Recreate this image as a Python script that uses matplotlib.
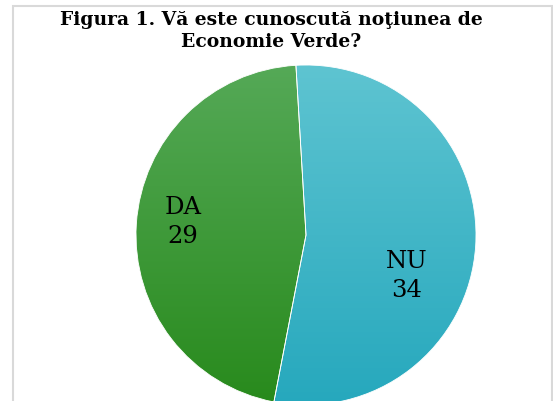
import matplotlib
matplotlib.use("Agg")
import matplotlib.pyplot as plt
import numpy as np
from matplotlib.patches import Rectangle

# 数据
labels = ["NU", "DA"]
values = [34, 29]
top_colors = ["#5EC4D1", "#55A957"]
bottom_colors = ["#26A8BD", "#288A1C"]
title = "Figura 1. Vă este cunoscută noţiunea de\nEconomie Verde?"

W, H = 553, 401
fig = plt.figure(figsize=(W / 100, H / 100), dpi=100)

# 外框
fig.patches.append(Rectangle((13 / W, -0.1), (552 - 13) / W, 1.1 - 6 / H,
                             transform=fig.transFigure, fill=False,
                             edgecolor="#d9d9d9", linewidth=1.5))

cx, cy, r = 306, 235, 170
ax = fig.add_axes([(cx - r) / W, 1 - (cy + r) / H, 2 * r / W, 2 * r / H])

wedges, _ = ax.pie(values, startangle=93.4, counterclock=False,
                   wedgeprops=dict(edgecolor="white", linewidth=0.6))

# 渐变填充
grad = np.linspace(0, 1, 256).reshape(-1, 1)
for w, c0, c1 in zip(wedges, top_colors, bottom_colors):
    a = np.array(matplotlib.colors.to_rgb(c0))
    b = np.array(matplotlib.colors.to_rgb(c1))
    img = a[None, None, :] * (1 - grad[:, :, None]) + b[None, None, :] * grad[:, :, None]
    im = ax.imshow(img, extent=(-1, 1, -1, 1), origin="upper", aspect="auto", zorder=1)
    im.set_clip_path(w)
    w.set_facecolor("none")
    w.set_zorder(2)

ax.set_xlim(-1, 1)
ax.set_ylim(-1, 1)
ax.set_aspect("auto")
ax.axis("off")

label_pos = [(407, 276), (183, 222)]
for (px, py), lab, v in zip(label_pos, labels, values):
    ax.text((px - cx) / r, (cy - py) / r, f"{lab}\n{v}", ha="center", va="center",
            fontsize=17.5, family="DejaVu Serif", linespacing=1.35, zorder=3)

fig.text(271 / W, 1 - 11 / H, title, ha="center", va="top", fontsize=13.5,
         fontweight="bold", family="DejaVu Serif", linespacing=1.3)

fig.savefig("out.png", dpi=100)
